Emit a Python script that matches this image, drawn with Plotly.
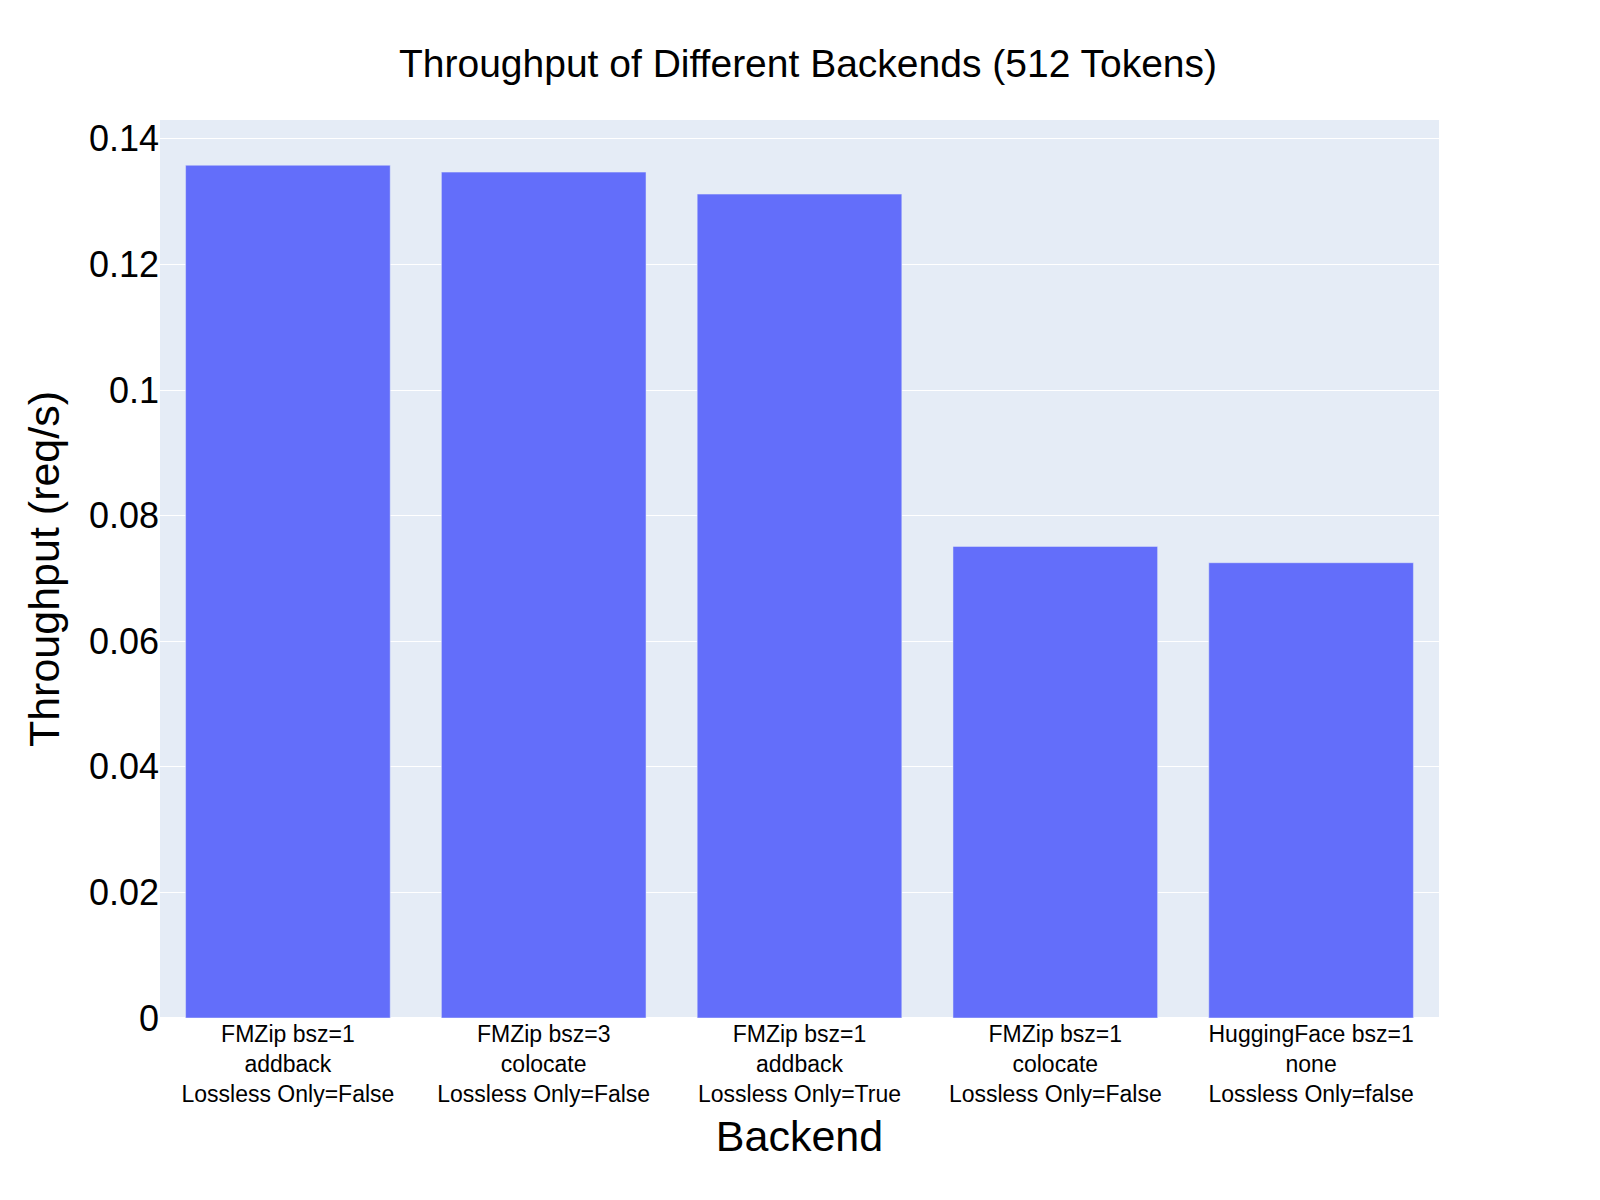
import plotly.graph_objects as go

backends = ["FMZip bsz=1<br>addback<br>Lossless Only=False",
            "FMZip bsz=3<br>colocate<br>Lossless Only=False",
            "FMZip bsz=1<br>addback<br>Lossless Only=True",
            "FMZip bsz=1<br>colocate<br>Lossless Only=False",
            "HuggingFace bsz=1<br>none<br>Lossless Only=false"]
throughput = [0.1358, 0.1347, 0.1312, 0.0751, 0.0725]

fig = go.Figure(go.Bar(x=backends, y=throughput, marker_color="#636efa"))
fig.update_layout(
    width=1600, height=1200,
    font=dict(family="Liberation Sans, Arial, sans-serif", color="black"),
    title=dict(text="Throughput of Different Backends (512 Tokens)", x=0.5, xanchor="center", y=0.965, font=dict(size=39)),
    margin=dict(l=152, r=169, t=112, b=190),
    xaxis=dict(title=dict(text="Backend", font=dict(size=43)), tickfont=dict(size=23)),
    yaxis=dict(title=dict(text="Throughput (req/s)", font=dict(size=43)), tickfont=dict(size=36), range=[0, 0.143]),
    plot_bgcolor="#e5ecf6",
)
fig.write_html("out.html")
